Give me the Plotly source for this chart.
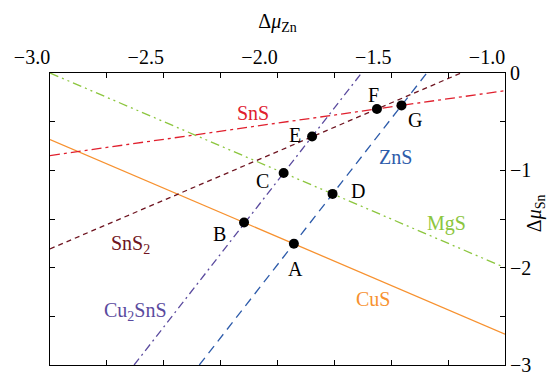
import plotly.graph_objects as go

# Line definitions: mu_Sn = slope * mu_Zn + intercept
phases = ["CuS", "SnS", "MgS", "SnS2", "Cu2SnS", "ZnS"]
slopes = [-1.0, 1/3, -1.0, 1.0, 3.0, 3.0]
intercepts = [-3.683, 0.152, -3.0, 1.193, 4.891, 4.031]
colors = ["#F7912F", "#E0202E", "#8CC63E", "#6E1420", "#5A4A9E", "#2D5BAA"]
dashes = ["solid", "10px,4px,3px,4px", "9px,4px,2px,4px,2px,4px", "5px,4px",
          "8px,4px,2px,4px", "9px,6px"]
phase_labels = ["CuS", "SnS", "MgS", "SnS<sub>2</sub>", "Cu<sub>2</sub>SnS", "ZnS"]
label_x = [-1.58, -2.108, -1.259, -2.648, -2.626, -1.483]
label_y = [-2.317, -0.416, -1.545, -1.762, -2.455, -0.861]

# Intersection points
pt_names = ["A", "B", "C", "D", "E", "F", "G"]
pt_x = [-1.928, -2.147, -1.973, -1.758, -1.848, -1.563, -1.455]
pt_y = [-1.755, -1.536, -1.027, -1.242, -0.653, -0.369, -0.333]
pt_label_x = [-1.920, -2.254, -2.068, -1.646, -1.922, -1.580, -1.397]
pt_label_y = [-2.013, -1.650, -1.106, -1.215, -0.637, -0.231, -0.479]

x_min, x_max = -3.0, -1.0
y_min, y_max = -3.0, 0.0


def clip(m, b):
    cands = [x_min, x_max, (y_min - b) / m, (y_max - b) / m]
    ok = [xv for xv in cands
          if x_min - 1e-6 <= xv <= x_max + 1e-6 and y_min - 1e-6 <= m * xv + b <= y_max + 1e-6]
    return min(ok), max(ok)


fig = go.Figure()
for name, m, b, c, d in zip(phases, slopes, intercepts, colors, dashes):
    x0, x1 = clip(m, b)
    fig.add_trace(go.Scatter(x=[x0, x1], y=[m * x0 + b, m * x1 + b],
                             mode="lines", line=dict(color=c, width=1.3, dash=d),
                             name=name, showlegend=False, hoverinfo="skip"))

fig.add_trace(go.Scatter(x=pt_x, y=pt_y, mode="markers",
                         marker=dict(color="black", size=10), showlegend=False))

font_family = "Liberation Serif"
fs = 20
for t, x, y, c in zip(phase_labels, label_x, label_y, colors):
    fig.add_annotation(x=x, y=y, text=t, showarrow=False,
                       font=dict(family=font_family, size=fs, color=c))
for t, x, y in zip(pt_names, pt_label_x, pt_label_y):
    fig.add_annotation(x=x, y=y, text=t, showarrow=False,
                       font=dict(family=font_family, size=fs, color="black"))

# y-axis title on the right
fig.add_annotation(xref="paper", yref="paper", x=1, y=0.52, xshift=30,
                   text="Δ<i>μ</i><sub>Sn</sub>", textangle=-90, showarrow=False,
                   xanchor="center", yanchor="middle",
                   font=dict(family=font_family, size=fs, color="black"))

fig.update_layout(
    width=559, height=374,
    margin=dict(l=42, r=62, t=65, b=6),
    plot_bgcolor="white", paper_bgcolor="white",
    font=dict(family=font_family, size=fs, color="black"),
    xaxis=dict(range=[x_min, x_max], side="top", dtick=0.5, tick0=-3, tickformat=".1f",
               ticks="inside", ticklen=5, tickcolor="black", showgrid=False, zeroline=False,
               showline=True, linecolor="black", linewidth=1, mirror="ticks",
               ticklabelshift=-18, ticklabeloverflow="allow",
               minor=dict(dtick=0.25, ticks="inside", ticklen=5, tickcolor="black", showgrid=False),
               title=dict(text="Δ<i>μ</i><sub>Zn</sub>", standoff=12, font=dict(size=fs)),
               tickfont=dict(size=fs)),
    yaxis=dict(range=[y_min, y_max], side="right", dtick=1, tick0=0,
               ticks="inside", ticklen=5, tickcolor="black", showgrid=False, zeroline=False,
               showline=True, linecolor="black", linewidth=1, mirror="ticks",
               ticklabeloverflow="allow",
               minor=dict(dtick=0.5, ticks="inside", ticklen=5, tickcolor="black", showgrid=False),
               tickfont=dict(size=fs)),
)

fig.write_html("out.html")
